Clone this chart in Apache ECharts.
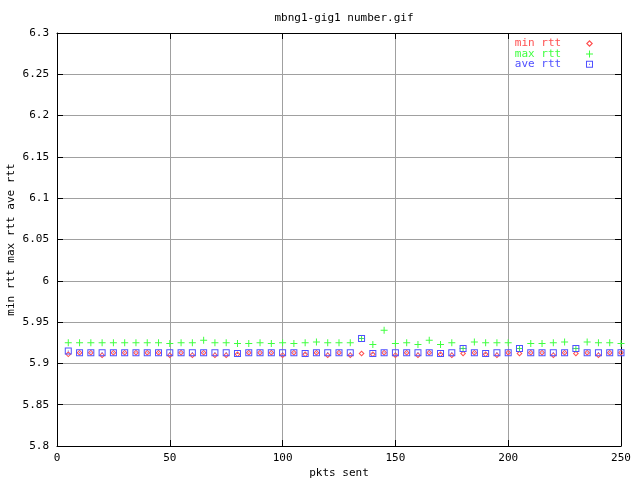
<!DOCTYPE html>
<html><head><meta charset="utf-8">
<script src="https://cdn.jsdelivr.net/npm/echarts@6/dist/echarts.min.js"></script>
<style>html,body{margin:0;padding:0;background:#fff}#c{width:640px;height:480px}</style>
</head><body><div id="c"></div>
<script>
const titleText = 'mbng1-gig1 number.gif';
const xName = 'pkts sent';
const yName = 'min rtt max rtt ave rtt';
const seriesNames = ['min rtt', 'max rtt', 'ave rtt'];
const pkts = [5,10,15,20,25,30,35,40,45,50,55,60,65,70,75,80,85,90,95,100,105,110,115,120,125,130,135,140,145,150,155,160,165,170,175,180,185,190,195,200,205,210,215,220,225,230,235,240,245,250];
const minRtt = [5.911,5.913,5.913,5.910,5.913,5.913,5.913,5.913,5.913,5.910,
5.913,5.910,5.913,5.910,5.910,5.911,5.913,5.913,5.913,5.910,
5.913,5.911,5.913,5.910,5.913,5.910,5.912,5.911,5.913,5.910,
5.913,5.910,5.913,5.911,5.910,5.912,5.913,5.911,5.910,5.913,
5.912,5.913,5.913,5.910,5.913,5.912,5.913,5.910,5.913,5.913];
const maxRtt = [5.925,5.925,5.925,5.925,5.925,5.925,5.925,5.925,5.925,5.924,
5.925,5.925,5.928,5.925,5.925,5.924,5.924,5.925,5.924,5.925,
5.924,5.925,5.926,5.925,5.925,5.925,5.930,5.923,5.940,5.924,
5.925,5.923,5.928,5.923,5.925,5.918,5.926,5.925,5.925,5.925,
5.918,5.924,5.924,5.925,5.926,5.918,5.926,5.925,5.925,5.924];
const aveRtt = [5.915,5.913,5.913,5.913,5.913,5.913,5.913,5.913,5.913,5.913,
5.913,5.913,5.913,5.913,5.913,5.912,5.913,5.913,5.913,5.913,
5.913,5.912,5.913,5.913,5.913,5.913,5.930,5.912,5.913,5.913,
5.913,5.913,5.913,5.912,5.913,5.918,5.913,5.912,5.913,5.913,
5.918,5.913,5.913,5.913,5.913,5.918,5.913,5.913,5.913,5.913];

const FONT = 'DejaVu Sans Mono';
const colors = ['#ff5050', '#40ff40', '#5050ff'];
const symDiamond = 'path://M3,0L6,3L3,6L0,3Z M3,1.4L1.4,3L3,4.6L4.6,3Z';
const symPlus = 'path://M3,0h1v3h3v1h-3v3h-1v-3h-3v-1h3z';
const symSquare = 'path://M0,0h7v7h-7z M1,1v5h5v-5z M3,3h1v1h-1z';

function pairs(ys){ return pkts.map((x,i)=>[x, ys[i]]); }

const chart = echarts.init(document.getElementById('c'), null, {renderer:'canvas'});
const gridLine = {show:true, lineStyle:{color:'#a0a0a0', width:1}};
const axisLine = {show:true, onZero:false, lineStyle:{color:'#000', width:1}};
const lbl = {fontFamily:FONT, fontSize:11, color:'#000'};
chart.setOption({
  animation:false,
  backgroundColor:'#fff',
  title:{text:titleText, left:339, top:8, textAlign:'center',
    textStyle:{fontFamily:FONT, fontSize:11, fontWeight:'normal', color:'#000'}},
  grid:{left:57, right:19, top:33, bottom:34, containLabel:false, outerBoundsMode:'none'},
  legend:{
    orient:'vertical', right:47, top:38, padding:0, itemGap:-0.6, align:'right',
    itemWidth:7, itemHeight:7,
    formatter:n=>n+'   ',
    data:seriesNames.map((n,i)=>({name:n, textStyle:{color:colors[i]}})),
    textStyle:{fontFamily:FONT, fontSize:11}
  },
  xAxis:[
    {type:'value', min:0, max:250, interval:50, position:'bottom',
     name:xName, nameLocation:'middle', nameGap:22, nameMoveOverlap:false,
     nameTextStyle:{fontFamily:FONT, fontSize:11, color:'#000'},
     axisLine:axisLine, axisTick:{show:true, inside:true, length:6, lineStyle:{color:'#000'}},
     axisLabel:Object.assign({margin:7}, lbl), splitLine:gridLine},
    {type:'value', min:0, max:250, interval:50, position:'top',
     axisLine:axisLine, axisTick:{show:true, inside:true, length:6, lineStyle:{color:'#000'}},
     axisLabel:{show:false}, splitLine:{show:false}}
  ],
  yAxis:[
    {type:'value', min:5.8, max:6.3, interval:0.05, position:'left',
     name:yName, nameLocation:'middle', nameGap:40, nameRotate:90, nameMoveOverlap:false,
     nameTextStyle:{fontFamily:FONT, fontSize:11, color:'#000'},
     axisLine:axisLine, axisTick:{show:true, inside:true, length:6, lineStyle:{color:'#000'}},
     axisLabel:Object.assign({margin:8, formatter:v=>String(+v.toFixed(2))}, lbl), splitLine:gridLine},
    {type:'value', min:5.8, max:6.3, interval:0.05, position:'right',
     axisLine:axisLine, axisTick:{show:true, inside:true, length:6, lineStyle:{color:'#000'}},
     axisLabel:{show:false}, splitLine:{show:false}}
  ],
  series:[
    {name:seriesNames[0], type:'scatter', data:pairs(minRtt), symbol:symDiamond, symbolSize:6,
     itemStyle:{color:colors[0], opacity:1}, z:2},
    {name:seriesNames[1], type:'scatter', data:pairs(maxRtt), symbol:symPlus, symbolSize:7,
     itemStyle:{color:colors[1], opacity:1}, z:3},
    {name:seriesNames[2], type:'scatter', data:pairs(aveRtt), symbol:symSquare, symbolSize:7,
     itemStyle:{color:colors[2], opacity:1}, z:4}
  ]
});
</script></body></html>
